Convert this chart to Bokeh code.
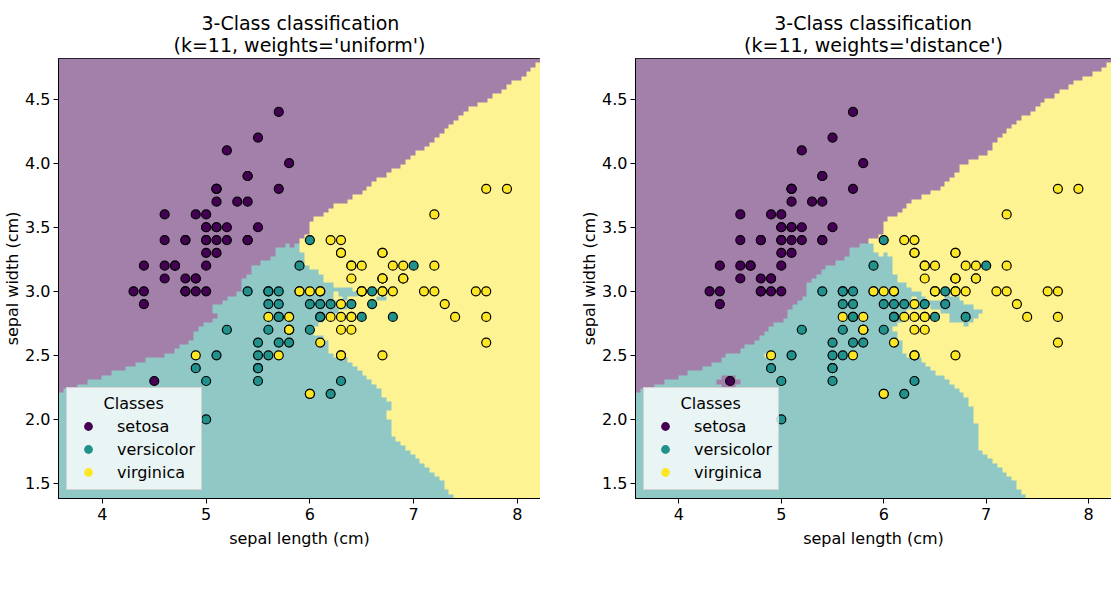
import numpy as np
from bokeh.plotting import figure
from bokeh.layouts import row
from bokeh.models import Range1d, FixedTicker, PrintfTickFormatter, Legend, LegendItem, Title
from bokeh.embed import file_html
from bokeh.resources import INLINE

# ---------------- data (iris: sepal length / sepal width) ----------------
sepal_length = [
    5.1, 4.9, 4.7, 4.6, 5.0, 5.4, 4.6, 5.0, 4.4, 4.9, 5.4, 4.8, 4.8, 4.3, 5.8, 5.7, 5.4, 5.1, 5.7, 5.1,
    5.4, 5.1, 4.6, 5.1, 4.8, 5.0, 5.0, 5.2, 5.2, 4.7, 4.8, 5.4, 5.2, 5.5, 4.9, 5.0, 5.5, 4.9, 4.4, 5.1,
    5.0, 4.5, 4.4, 5.0, 5.1, 4.8, 5.1, 4.6, 5.3, 5.0,
    7.0, 6.4, 6.9, 5.5, 6.5, 5.7, 6.3, 4.9, 6.6, 5.2, 5.0, 5.9, 6.0, 6.1, 5.6, 6.7, 5.6, 5.8, 6.2, 5.6,
    5.9, 6.1, 6.3, 6.1, 6.4, 6.6, 6.8, 6.7, 6.0, 5.7, 5.5, 5.5, 5.8, 6.0, 5.4, 6.0, 6.7, 6.3, 5.6, 5.5,
    5.5, 6.1, 5.8, 5.0, 5.6, 5.7, 5.7, 6.2, 5.1, 5.7,
    6.3, 5.8, 7.1, 6.3, 6.5, 7.6, 4.9, 7.3, 6.7, 7.2, 6.5, 6.4, 6.8, 5.7, 5.8, 6.4, 6.5, 7.7, 7.7, 6.0,
    6.9, 5.6, 7.7, 6.3, 6.7, 7.2, 6.2, 6.1, 6.4, 7.2, 7.4, 7.9, 6.4, 6.3, 6.1, 7.7, 6.3, 6.4, 6.0, 6.9,
    6.7, 6.9, 5.8, 6.8, 6.7, 6.7, 6.3, 6.5, 6.2, 5.9,
]
sepal_width = [
    3.5, 3.0, 3.2, 3.1, 3.6, 3.9, 3.4, 3.4, 2.9, 3.1, 3.7, 3.4, 3.0, 3.0, 4.0, 4.4, 3.9, 3.5, 3.8, 3.8,
    3.4, 3.7, 3.6, 3.3, 3.4, 3.0, 3.4, 3.5, 3.4, 3.2, 3.1, 3.4, 4.1, 4.2, 3.1, 3.2, 3.5, 3.6, 3.0, 3.4,
    3.5, 2.3, 3.2, 3.5, 3.8, 3.0, 3.8, 3.2, 3.7, 3.3,
    3.2, 3.2, 3.1, 2.3, 2.8, 2.8, 3.3, 2.4, 2.9, 2.7, 2.0, 3.0, 2.2, 2.9, 2.9, 3.1, 3.0, 2.7, 2.2, 2.5,
    3.2, 2.8, 2.5, 2.8, 2.9, 3.0, 2.8, 3.0, 2.9, 2.6, 2.4, 2.4, 2.7, 2.7, 3.0, 3.4, 3.1, 2.3, 3.0, 2.5,
    2.6, 3.0, 2.6, 2.3, 2.7, 3.0, 2.9, 2.9, 2.5, 2.8,
    3.3, 2.7, 3.0, 2.9, 3.0, 3.0, 2.5, 2.9, 2.5, 3.6, 3.2, 2.7, 3.0, 2.5, 2.8, 3.2, 3.0, 3.8, 2.6, 2.2,
    3.2, 2.8, 2.8, 2.7, 3.3, 3.2, 2.8, 3.0, 2.8, 3.0, 2.8, 3.8, 2.8, 2.8, 2.6, 3.0, 3.4, 3.1, 3.0, 3.1,
    3.1, 3.1, 2.7, 3.2, 3.3, 3.0, 2.5, 3.0, 3.4, 3.0,
]
target = [0] * 50 + [1] * 50 + [2] * 50
class_names = ["setosa", "versicolor", "virginica"]
class_colors = ["#440154", "#21918c", "#fde725"]
n_neighbors = 11
weight_modes = ["uniform", "distance"]
x_ticks = [4, 5, 6, 7, 8]
y_ticks = [1.5, 2.0, 2.5, 3.0, 3.5, 4.0, 4.5]
x_label = "sepal length (cm)"
y_label = "sepal width (cm)"
title_line1 = "3-Class classification"

X = np.column_stack([sepal_length, sepal_width]).astype(float)
y = np.array(target)


# ---------------- stratified split (random_state=0) ----------------
def approximate_mode(class_counts, n_draws, rng):
    continuous = class_counts / class_counts.sum() * n_draws
    floored = np.floor(continuous)
    need_to_add = int(n_draws - floored.sum())
    if need_to_add > 0:
        remainder = continuous - floored
        values = np.sort(np.unique(remainder))[::-1]
        for v in values:
            (inds,) = np.where(remainder == v)
            add_now = min(len(inds), need_to_add)
            inds = rng.choice(inds, size=add_now, replace=False)
            floored[inds] += 1
            need_to_add -= add_now
            if need_to_add == 0:
                break
    return floored.astype(int)


n_samples = len(y)
n_test = int(np.ceil(0.25 * n_samples))
n_train = n_samples - n_test
classes, y_indices = np.unique(y, return_inverse=True)
class_counts = np.bincount(y_indices)
class_indices = np.split(np.argsort(y_indices, kind="mergesort"), np.cumsum(class_counts)[:-1])
rng = np.random.RandomState(0)
n_i = approximate_mode(class_counts, n_train, rng)
t_i = approximate_mode(class_counts - n_i, n_test, rng)
train, test = [], []
for i in range(len(classes)):
    perm = rng.permutation(class_counts[i])
    pic = class_indices[i].take(perm, mode="clip")
    train.extend(pic[: n_i[i]])
    test.extend(pic[n_i[i]: n_i[i] + t_i[i]])
train = rng.permutation(train)
test = rng.permutation(test)

X_train, y_train = X[train], y[train]
X_test = X[test]

mu = X_train.mean(axis=0)
sd = X_train.std(axis=0)

# grid like DecisionBoundaryDisplay (eps=1, 100x100)
res = 100
x0_min, x0_max = X_test[:, 0].min() - 1.0, X_test[:, 0].max() + 1.0
x1_min, x1_max = X_test[:, 1].min() - 1.0, X_test[:, 1].max() + 1.0
gx = np.linspace(x0_min, x0_max, res)
gy = np.linspace(x1_min, x1_max, res)
xx, yy = np.meshgrid(gx, gy)
G = (np.column_stack([xx.ravel(), yy.ravel()]) - mu) / sd
T = (X_train - mu) / sd
D = np.sqrt(((G[:, None, :] - T[None, :, :]) ** 2).sum(axis=2))
nn = np.argsort(D, axis=1, kind="stable")[:, :n_neighbors]
nd = np.take_along_axis(D, nn, axis=1)
nl = y_train[nn]

dx = gx[1] - gx[0]
dy = gy[1] - gy[0]
x_lo, x_hi = x0_min - dx / 2, x0_max + dx / 2
y_lo, y_hi = x1_min - dy / 2, x1_max + dy / 2


def hex_rgb(h):
    h = h.lstrip("#")
    return np.array([int(h[k:k + 2], 16) for k in (0, 2, 4)], dtype=float)


blend = np.array([np.round(0.5 * hex_rgb(c) + 0.5 * 255) for c in class_colors]).astype(np.uint8)


def predict(mode):
    if mode == "uniform":
        w = np.ones_like(nd)
    else:
        with np.errstate(divide="ignore"):
            w = 1.0 / nd
        zero = ~np.isfinite(w)
        rows = zero.any(axis=1)
        w[rows] = zero[rows].astype(float)
    scores = np.stack([(w * (nl == c)).sum(axis=1) for c in range(3)], axis=1)
    return scores.argmax(axis=1).reshape(res, res)


def make_image(Z):
    up = 5
    rgba = np.zeros((res, res, 4), dtype=np.uint8)
    rgba[..., :3] = blend[Z]
    rgba[..., 3] = 255
    rgba = np.repeat(np.repeat(rgba, up, axis=0), up, axis=1)
    img = np.ascontiguousarray(rgba).view(dtype=np.uint32).reshape(rgba.shape[0], rgba.shape[1])
    return img


FONT = "DejaVu Sans"
TXT = "#000000"
FS = "16px"
FRAME_H = 440

# DejaVu Sans advance widths (font units, 2048/em) -> used only to centre line 1 of the title
_W = {" ": 651, "(": 799, ")": 799, "-": 739, "=": 1716, "'": 563, ",": 651, "1": 1303, "3": 1303,
      "C": 1430, "a": 1255, "c": 1126, "d": 1300, "e": 1260, "f": 721, "g": 1300, "h": 1298,
      "i": 569, "k": 1186, "l": 569, "m": 1995, "n": 1298, "o": 1253, "r": 842, "s": 1067,
      "t": 803, "u": 1298, "w": 1675}


def centred_pad(line_a, line_b):
    diff = (sum(_W.get(ch, 1200) for ch in line_b) - sum(_W.get(ch, 1200) for ch in line_a)) / 2.0
    n_sp = int(diff // 651)
    rest = diff - n_sp * 651
    pad = "\u200b" + "\u00a0" * n_sp
    if rest > 205:
        pad += "\u2009"
    return pad


def build(mode, left_border, frame_w):
    p = figure(
        frame_width=frame_w, frame_height=FRAME_H,
        x_range=Range1d(x_lo, x_hi), y_range=Range1d(y_lo, y_hi),
        output_backend="svg", toolbar_location=None,
        min_border_left=left_border, min_border_right=0, min_border_top=58, min_border_bottom=50,
        background_fill_color="white", border_fill_color="white",
    )
    line2 = f"(k={n_neighbors}, weights='{mode}')"
    p.title = None
    p.add_layout(Title(text=centred_pad(title_line1, line2) + title_line1 + "\n" + line2,
                       align="center", text_font=FONT, text_font_size="19px",
                       text_font_style="normal", text_color=TXT, text_line_height=1.0,
                       offset=0, standoff=6), "above")

    p.image_rgba(image=[make_image(predict(mode))], x=x_lo, y=y_lo, dw=x_hi - x_lo, dh=y_hi - y_lo)

    p.scatter(x=X[:, 0], y=X[:, 1], size=9,
              fill_color=[class_colors[k] for k in y], line_color="black", line_width=1.2)

    items = []
    for c_idx, (name, c) in enumerate(zip(class_names, class_colors)):
        rep = X[y == c_idx][:1]
        r = p.scatter(x=rep[:, 0], y=rep[:, 1], size=9, fill_color=c, line_color=None, visible=False)
        items.append(LegendItem(label=name, renderers=[r]))
    leg = Legend(items=items, location="bottom_left", title="      Classes",
                 title_text_font=FONT, title_text_font_size=FS, title_text_font_style="normal",
                 title_text_color=TXT, title_standoff=2,
                 label_text_font=FONT, label_text_font_size=FS, label_text_color=TXT,
                 label_standoff=14, glyph_width=30, glyph_height=22, label_height=22, spacing=1,
                 padding=6, margin=8,
                 background_fill_color="white", background_fill_alpha=0.8,
                 border_line_color="#cccccc", border_line_alpha=0.8)
    p.add_layout(leg, "center")

    p.xgrid.visible = False
    p.ygrid.visible = False
    p.outline_line_color = "black"
    p.outline_line_width = 1

    for ax in (p.xaxis[0], p.yaxis[0]):
        ax.axis_line_color = "black"
        ax.major_tick_line_color = "black"
        ax.major_tick_out = 5
        ax.major_tick_in = 0
        ax.minor_tick_line_color = None
        ax.major_label_text_font = FONT
        ax.major_label_text_font_size = FS
        ax.major_label_text_color = TXT
        ax.axis_label_text_font = FONT
        ax.axis_label_text_font_size = FS
        ax.axis_label_text_font_style = "normal"
        ax.axis_label_text_color = TXT
    p.xaxis[0].ticker = FixedTicker(ticks=x_ticks)
    p.yaxis[0].ticker = FixedTicker(ticks=y_ticks)
    p.xaxis[0].formatter = PrintfTickFormatter(format="%d")
    p.yaxis[0].formatter = PrintfTickFormatter(format="%.1f")
    p.xaxis[0].axis_label = x_label
    p.yaxis[0].axis_label = y_label
    p.xaxis[0].major_label_standoff = 4
    p.xaxis[0].axis_label_standoff = 6
    p.yaxis[0].major_label_standoff = 3
    p.yaxis[0].axis_label_standoff = 0
    return p


p1 = build("uniform", 47, 482)
p2 = build("distance", 95, 476)
layout = row(p1, p2)

open("out.html", "w").write(file_html(layout, INLINE))
